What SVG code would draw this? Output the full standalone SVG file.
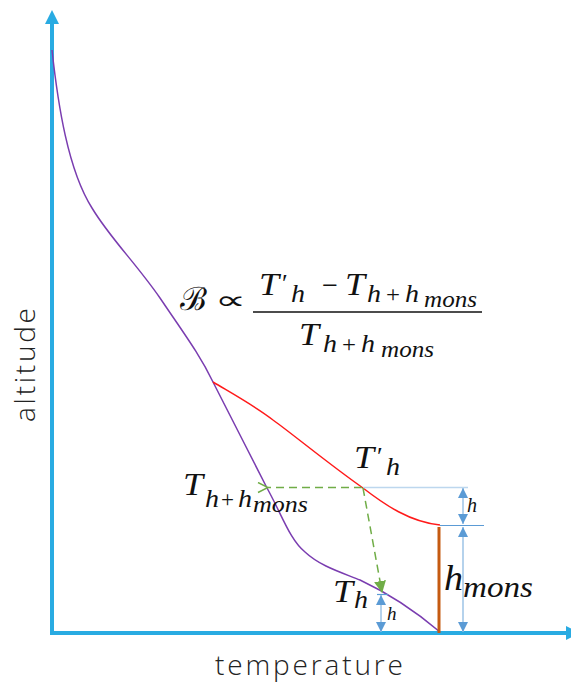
<svg xmlns="http://www.w3.org/2000/svg" width="571" height="684" viewBox="0 0 571 684">
<defs>
<style>
.m{font-family:"Liberation Serif","DejaVu Serif",serif;font-style:italic;fill:#111}
.n{font-family:"Liberation Serif","DejaVu Serif",serif;fill:#111}
.lbl{font-family:"Open Sans","Noto Sans",sans-serif;font-weight:300;fill:#222;font-size:28px}
.axis{stroke:#29abe2;stroke-width:4;fill:none}
.dim{stroke:#9dc3e6;stroke-width:1.5;fill:none;marker-start:url(#da);marker-end:url(#da)}
.green{stroke:#70ad47;stroke-width:1.5;stroke-dasharray:8 5;fill:none}
</style>
<marker id="da" viewBox="0 0 10 10" refX="10" refY="5" markerWidth="10" markerHeight="10" markerUnits="userSpaceOnUse" orient="auto-start-reverse">
<path d="M0,0 L10,5 L0,10 Z" fill="#5b9bd5"/>
</marker>
<marker id="gOpen" viewBox="0 0 12 12" refX="1" refY="6" markerWidth="12" markerHeight="12" markerUnits="userSpaceOnUse" orient="auto">
<path d="M11,1 L1,6 L11,11" fill="none" stroke="#70ad47" stroke-width="1.5"/>
</marker>
<marker id="gFill" viewBox="0 0 12 12" refX="11" refY="6" markerWidth="12" markerHeight="12" markerUnits="userSpaceOnUse" orient="auto">
<path d="M0,0 L12,6 L0,12 Z" fill="#70ad47"/>
</marker>
</defs>
<rect width="571" height="684" fill="#fff"/>

<g id="axes">
<line class="axis" x1="52" y1="635" x2="52" y2="23"/>
<path d="M52,10 L59,24 L45,24 Z" fill="#29abe2"/>
<line class="axis" x1="50" y1="633" x2="566" y2="633"/>
<path d="M580,633 L566,626 L566,640 Z" fill="#29abe2"/>
<text class="lbl" x="215" y="675" textLength="188" lengthAdjust="spacing">temperature</text>
<text class="lbl" transform="translate(35,422) rotate(-90)" x="0" y="0" textLength="114" lengthAdjust="spacing">altitude</text>
</g>

<g id="curves">
<path id="env" d="M52,50 C58,105 68,170 92,208 C110,238 135,262 160,298 C185,335 200,355 213,382 C230,415 250,455 267,488 C282,515 290,540 305,552 C320,566 340,572 360,580 C390,594 420,615 440,632" fill="none" stroke="#7a3db0" stroke-width="1.5"/>
<path id="red" d="M213,382 C240,398 258,408 273,420 C290,432 330,465 363,488 C385,505 410,522 440,525" fill="none" stroke="#ff1a1a" stroke-width="1.5"/>
<line id="mons" x1="439" y1="527" x2="439" y2="633" stroke="#c55a11" stroke-width="3"/>
</g>

<g id="connectors">
<line x1="363" y1="487.5" x2="468" y2="487.5" stroke="#bdd7ee" stroke-width="1.5"/>
<line x1="440" y1="525.5" x2="484" y2="525.5" stroke="#5b9bd5" stroke-width="1.2"/>
<line x1="377" y1="594.5" x2="388" y2="594.5" stroke="#5b9bd5" stroke-width="1.2"/>
<line class="dim" x1="463" y1="488" x2="463" y2="524"/>
<line class="dim" x1="463" y1="527" x2="463" y2="632"/>
<line class="dim" x1="381" y1="595" x2="381" y2="632"/>
<line class="green" x1="362" y1="487.5" x2="268" y2="487.5" marker-end="url(#gOpen)"/>
<line class="green" x1="363" y1="488" x2="382" y2="592" marker-end="url(#gFill)"/>
</g>

<g id="formula">
<text x="180" y="310" font-size="32" font-family="Liberation Serif,DejaVu Serif,serif" fill="#111">ℬ</text>
<text x="215" y="309" font-size="26" font-family="DejaVu Sans,sans-serif" fill="#111" textLength="31" lengthAdjust="spacingAndGlyphs">∝</text>
<line x1="253" y1="312" x2="482" y2="312" stroke="#111" stroke-width="1.5"/>
<text class="m" x="259" y="295" font-size="31" textLength="20" lengthAdjust="spacingAndGlyphs">T</text>
<text class="n" x="282" y="292" font-size="26">′</text>
<text class="m" x="291" y="302" font-size="26" textLength="14" lengthAdjust="spacingAndGlyphs">h</text>
<text class="n" x="322" y="295" font-size="30" textLength="16" lengthAdjust="spacingAndGlyphs">−</text>
<text class="m" x="345" y="295" font-size="31" textLength="20" lengthAdjust="spacingAndGlyphs">T</text>
<text class="m" x="367" y="302" font-size="26" textLength="14" lengthAdjust="spacingAndGlyphs">h</text>
<text class="n" x="386" y="302" font-size="24" textLength="14" lengthAdjust="spacingAndGlyphs">+</text>
<text class="m" x="405" y="302" font-size="26" textLength="14" lengthAdjust="spacingAndGlyphs">h</text>
<text class="m" x="424" y="307" font-size="24" textLength="53" lengthAdjust="spacingAndGlyphs">mons</text>
<text class="m" x="299" y="345" font-size="31" textLength="20" lengthAdjust="spacingAndGlyphs">T</text>
<text class="m" x="323" y="352" font-size="26" textLength="14" lengthAdjust="spacingAndGlyphs">h</text>
<text class="n" x="342" y="352" font-size="24" textLength="14" lengthAdjust="spacingAndGlyphs">+</text>
<text class="m" x="361" y="352" font-size="26" textLength="14" lengthAdjust="spacingAndGlyphs">h</text>
<text class="m" x="381" y="357" font-size="24" textLength="53" lengthAdjust="spacingAndGlyphs">mons</text>
</g>

<g id="label-Tph">
<text class="m" x="354" y="468" font-size="31" textLength="20" lengthAdjust="spacingAndGlyphs">T</text>
<text class="n" x="377" y="465" font-size="26">′</text>
<text class="m" x="386" y="475" font-size="26" textLength="14" lengthAdjust="spacingAndGlyphs">h</text>
</g>

<g id="label-Thhm">
<text class="m" x="183" y="495" font-size="31" textLength="20" lengthAdjust="spacingAndGlyphs">T</text>
<text class="m" x="205" y="507" font-size="26" textLength="14" lengthAdjust="spacingAndGlyphs">h</text>
<text class="n" x="221" y="507" font-size="24" textLength="13" lengthAdjust="spacingAndGlyphs">+</text>
<text class="m" x="238" y="507" font-size="26" textLength="14" lengthAdjust="spacingAndGlyphs">h</text>
<text class="m" x="253" y="512" font-size="24" textLength="55" lengthAdjust="spacingAndGlyphs">mons</text>
</g>

<g id="label-Th">
<text class="m" x="333" y="602" font-size="31" textLength="20" lengthAdjust="spacingAndGlyphs">T</text>
<text class="m" x="354" y="608" font-size="26" textLength="14" lengthAdjust="spacingAndGlyphs">h</text>
</g>

<g id="label-h1"><text class="m" x="467" y="512" font-size="20">h</text></g>
<g id="label-h2"><text class="m" x="387" y="620" font-size="19">h</text></g>
<g id="label-hmons">
<text class="m" x="444" y="590" font-size="36" textLength="19" lengthAdjust="spacingAndGlyphs">h</text>
<text class="m" x="463" y="597" font-size="30" textLength="70" lengthAdjust="spacingAndGlyphs">mons</text>
</g>
</svg>
